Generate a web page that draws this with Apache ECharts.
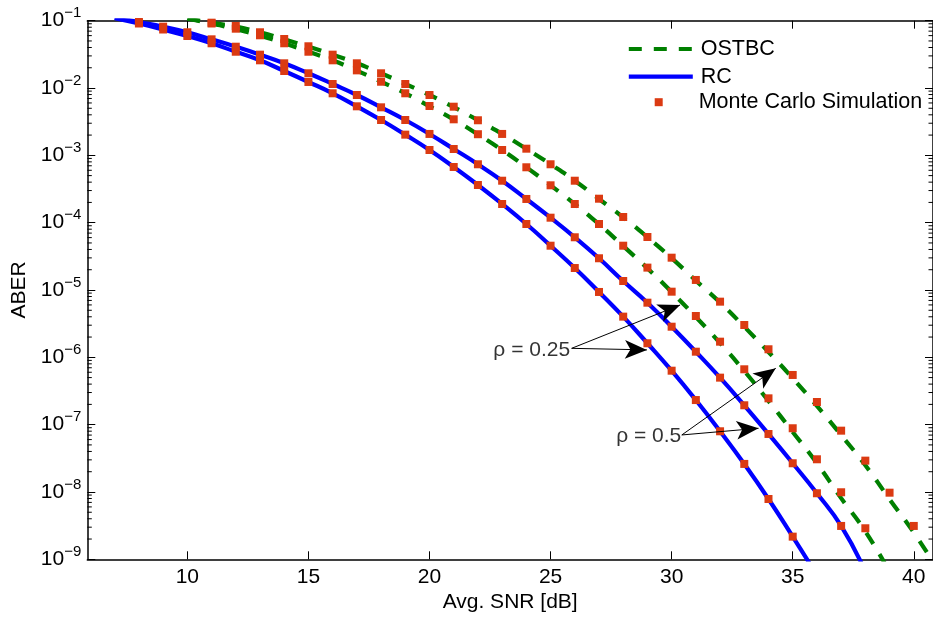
<!DOCTYPE html>
<html><head><meta charset="utf-8">
<script src="https://cdn.jsdelivr.net/npm/echarts@6/dist/echarts.min.js"></script>
<style>html,body{margin:0;padding:0;background:#fff}#c{width:933px;height:623px}</style>
</head><body><div id="c"></div>
<script>
const FONT = "'Liberation Sans', Arial, Helvetica, sans-serif";

// ---- axis ranges / ticks ----
const xMin = 5.868, xMax = 40.794;
const yMin = 1e-9, yMax = 1e-1;
const xTickValues = [10, 15, 20, 25, 30, 35, 40];

// ---- theory curves (lines) ----
const snrRC025 = [7,8,9,10,11,12,13,14,15,16,17,18,19,20,21,22,23,24,25,26,27,28,29,30,31,32,33,34,35,36];
const aberRC025 = [0.109,0.0909,0.074,0.0593,0.0462,0.0346,0.0258,0.0179,0.0123,8.35e-3,5.35e-3,3.35e-3,2.03e-3,1.2e-3,6.72e-4,3.63e-4,1.895e-4,9.56e-5,4.55e-5,2.12e-5,9.35e-6,4.02e-6,1.617e-6,6.33e-7,2.32e-7,7.97e-8,2.61e-8,7.87e-9,2.17e-9,5.8e-10];

const snrRC05 = [7,8,9,10,11,12,13,14,15,16,17,18,19,20,21,22,23,24,25,26,27,28,29,30,31,32,33,34,35,36,37,38];
const aberRC05 = [0.112,0.0956,0.0815,0.0673,0.0529,0.0411,0.0313,0.0233,0.01655,0.01148,7.88e-3,5.17e-3,3.35e-3,2.08e-3,1.243e-3,7.37e-4,4.2e-4,2.25e-4,1.186e-4,6.07e-5,2.96e-5,1.36e-5,6.48e-6,2.85e-6,1.213e-6,4.99e-7,1.94e-7,7.27e-8,2.67e-8,9.57e-9,3.13e-9,6.6e-10];

const snrOS025 = [10,11,12,13,14,15,16,17,18,19,20,21,22,23,24,25,26,27,28,29,30,31,32,33,34,35,36,37,38,39];
const aberOS025 = [0.107,0.0909,0.075,0.06,0.0462,0.0346,0.0258,0.0181,0.0124,8.35e-3,5.35e-3,3.4e-3,2.05e-3,1.2e-3,6.65e-4,3.59e-4,1.89e-4,9.5e-5,4.5e-5,2.1e-5,9.33e-6,3.98e-6,1.63e-6,6.27e-7,2.25e-7,7.8e-8,2.67e-8,8.1e-9,2.6e-9,6.5e-10];

const snrOS05 = [10,11,12,13,14,15,16,17,18,19,20,21,22,23,24,25,26,27,28,29,30,31,32,33,34,35,36,37,38,39,40,41];
const aberOS05 = [0.108,0.0934,0.0815,0.0673,0.0529,0.0411,0.0313,0.0233,0.01655,0.01148,7.88e-3,5.2e-3,3.33e-3,2.08e-3,1.25e-3,7.37e-4,4.2e-4,2.25e-4,1.2e-4,6.1e-5,2.98e-5,1.38e-5,6.5e-6,2.85e-6,1.2e-6,4.9e-7,1.9e-7,7.0e-8,2.5e-8,7.8e-9,2.5e-9,7e-10];

// ---- Monte Carlo simulation points ----
const mcSnrRC025 = [8,9,10,11,12,13,14,15,16,17,18,19,20,21,22,23,24,25,26,27,28,29,30,31,32,33,34,35];
const mcRC025 = [0.0909,0.074,0.0593,0.0462,0.0346,0.0258,0.0179,0.0123,8.35e-3,5.35e-3,3.35e-3,2.03e-3,1.201e-3,6.72e-4,3.63e-4,1.895e-4,9.56e-5,4.55e-5,2.12e-5,9.35e-6,4.02e-6,1.617e-6,6.33e-7,2.32e-7,7.97e-8,2.61e-8,7.87e-9,2.17e-9];

const mcSnrRC05 = [8,9,10,11,12,13,14,15,16,17,18,19,20,21,22,23,24,25,26,27,28,29,30,31,32,33,34,35,36,37];
const mcRC05 = [0.0956,0.0815,0.0673,0.0529,0.0411,0.0313,0.0233,0.01655,0.01148,7.88e-3,5.17e-3,3.35e-3,2.08e-3,1.243e-3,7.37e-4,4.2e-4,2.25e-4,1.186e-4,6.07e-5,2.96e-5,1.36e-5,6.48e-6,2.85e-6,1.213e-6,4.99e-7,1.94e-7,7.27e-8,2.67e-8,9.57e-9,3.13e-9];

const mcSnrOS025 = [11,12,13,14,15,16,17,18,19,20,21,22,23,24,25,26,27,28,29,30,31,32,33,34,35,36,37,38];
const mcOS025 = [0.0909,0.0761,0.0607,0.0462,0.0346,0.0258,0.0183,0.0124,8.35e-3,5.41e-3,3.43e-3,2.06e-3,1.201e-3,6.65e-4,3.59e-4,1.895e-4,9.56e-5,4.55e-5,2.15e-5,9.44e-6,4.11e-6,1.708e-6,6.64e-7,2.46e-7,8.84e-8,3.06e-8,9.9e-9,2.89e-9];

const mcSnrOS05 = [11,12,13,14,15,16,17,18,19,20,21,22,23,24,25,26,27,28,29,30,31,32,33,34,35,36,37,38,39,40];
const mcOS05 = [0.0934,0.0834,0.0673,0.0535,0.0417,0.0313,0.0233,0.01655,0.01148,7.88e-3,5.28e-3,3.32e-3,2.08e-3,1.256e-3,7.37e-4,4.2e-4,2.27e-4,1.215e-4,6.13e-5,3.02e-5,1.41e-5,6.71e-6,3.02e-6,1.317e-6,5.47e-7,2.17e-7,8.14e-8,2.92e-8,9.76e-9,3.13e-9];

// ---- annotations (data coordinates) ----
const annotText = ['\u03C1 = 0.25', '\u03C1 = 0.5'];
const annotAnchor = [[25.89, 1.26e-6], [30.48, 6.64e-8]];
const arrowFrom = [[25.87, 1.36e-6], [25.87, 1.36e-6], [30.42, 7.03e-8], [30.42, 7.03e-8]];
const arrowTo = [[30.35, 5.99e-6], [28.98, 1.29e-6], [34.30, 6.87e-7], [33.59, 8.83e-8]];

// minor tick multipliers for log axis
const minorMult = [2,3,4,5,6,7,8,9];
const decades = [-9,-8,-7,-6,-5,-4,-3,-2];

const BLUE = '#0000ff', GREEN = '#008000', RED = '#db3a12';

function pairs(xs, ys) { return xs.map((x, i) => [x, ys[i]]); }

function lineSeries(name, xs, ys, color, dashed) {
  return {
    name, type: 'line', data: pairs(xs, ys), smooth: true, showSymbol: false, symbol: 'none',
    clip: true, silent: true, z: 2,
    itemStyle: { color },
    lineStyle: { color, width: 4.2, type: dashed ? [13, 12] : 'solid' },
    emphasis: { disabled: true }
  };
}
function mcSeries(xs, ys) {
  return {
    name: 'Monte Carlo Simulation', type: 'scatter', data: pairs(xs, ys),
    symbol: 'rect', symbolSize: 8, clip: true, silent: true, z: 3,
    itemStyle: { color: RED, opacity: 1 },
    emphasis: { disabled: true }
  };
}

const supFmt = v => {
  const e = Math.round(Math.log10(v));
  return '{b|10}{s|' + (e < 0 ? '\u2212' + (-e) : e) + '}';
};

const chart = echarts.init(document.getElementById('c'), null, { renderer: 'canvas' });
const option = {
  animation: false,
  backgroundColor: '#fff',
  textStyle: { fontFamily: FONT, color: '#000' },
  grid: { left: 87.3, top: 20.7, right: -3, bottom: 63.7, containLabel: false },
  legend: [
    {
      data: ['OSTBC', 'RC'], orient: 'vertical', left: 626.7, top: 38, padding: 0,
      itemWidth: 64, itemHeight: 14, itemGap: 5.7, selectedMode: false,
      itemStyle: { opacity: 0, color: 'rgba(0,0,0,0)', borderWidth: 0 },
      lineStyle: { width: 4.2 },
      textStyle: { fontSize: 21.5, fontFamily: FONT, color: '#000', lineHeight: 21, padding: [0, 0, 0, 3] }
    },
    {
      data: ['Monte Carlo Simulation'], orient: 'vertical', left: 654.7, top: 91.2, padding: 0,
      itemWidth: 8, itemHeight: 8, selectedMode: false,
      textStyle: { fontSize: 21.5, fontFamily: FONT, color: '#000', lineHeight: 21, padding: [0, 0, 0, 31] }
    }
  ],
  xAxis: [
    {
      type: 'value', position: 'bottom', min: xMin, max: xMax, splitNumber: 7,
      name: 'Avg. SNR [dB]', nameLocation: 'middle', nameGap: 29,
      nameTextStyle: { fontSize: 21, fontFamily: FONT, color: '#000' },
      axisLine: { show: true, onZero: false, lineStyle: { color: '#000', width: 1.5 } },
      axisTick: { show: true, inside: true, length: 8, lineStyle: { color: '#000', width: 1 }, customValues: xTickValues },
      axisLabel: { show: true, fontSize: 21, fontFamily: FONT, color: '#000', margin: 7, customValues: xTickValues },
      splitLine: { show: false }
    },
    {
      type: 'value', position: 'top', min: xMin, max: xMax, splitNumber: 7,
      axisLine: { show: true, onZero: false, lineStyle: { color: '#000', width: 1.5 } },
      axisTick: { show: true, inside: true, length: 8, lineStyle: { color: '#000', width: 1 }, customValues: xTickValues },
      axisLabel: { show: false },
      splitLine: { show: false }
    }
  ],
  yAxis: [
    {
      type: 'log', logBase: 10, position: 'left', min: yMin, max: yMax,
      name: 'ABER', nameLocation: 'middle', nameGap: 57, nameRotate: 90,
      nameTextStyle: { fontSize: 21, fontFamily: FONT, color: '#000' },
      axisLine: { show: true, onZero: false, lineStyle: { color: '#000', width: 1.5 } },
      axisTick: { show: true, inside: true, length: 8, lineStyle: { color: '#000', width: 1 } },
      axisLabel: {
        show: true, margin: 6, formatter: supFmt,
        rich: {
          b: { fontSize: 21, fontFamily: FONT, color: '#000', lineHeight: 30 },
          s: { fontSize: 15, fontFamily: FONT, color: '#000', verticalAlign: 'top' }
        }
      },
      splitLine: { show: false }, minorTick: { show: false }
    },
    {
      type: 'log', logBase: 10, position: 'right', min: yMin, max: yMax,
      axisLine: { show: true, onZero: false, lineStyle: { color: '#000', width: 1.5 } },
      axisTick: { show: true, inside: true, length: 8, lineStyle: { color: '#000', width: 1 } },
      axisLabel: { show: false },
      splitLine: { show: false }
    }
  ],
  series: [
    lineSeries('OSTBC', snrOS025, aberOS025, GREEN, true),
    lineSeries('OSTBC', snrOS05, aberOS05, GREEN, true),
    lineSeries('RC', snrRC025, aberRC025, BLUE, false),
    lineSeries('RC', snrRC05, aberRC05, BLUE, false),
    mcSeries(mcSnrOS025, mcOS025),
    mcSeries(mcSnrOS05, mcOS05),
    mcSeries(mcSnrRC025, mcRC025),
    mcSeries(mcSnrRC05, mcRC05),
    {
      name: 'annot', type: 'scatter', symbolSize: 0, silent: true, z: 5, clip: false,
      data: annotAnchor.map((p, i) => ({ value: [p[0], p[1]], name: annotText[i] })),
      label: { show: true, position: 'left', distance: 2, formatter: p => p.name,
        fontSize: 21, fontFamily: FONT, color: '#000' },
      markLine: {
        silent: true, animation: false,
        symbol: ['none', 'arrow'], symbolSize: [14, 22],
        lineStyle: { color: '#000', width: 1, type: 'solid' },
        itemStyle: { color: '#000' },
        label: { show: false },
        emphasis: { disabled: true },
        data: arrowFrom.map((f, i) => [{ coord: f }, { coord: arrowTo[i] }])
      }
    },
    {
      name: 'minorTicks', type: 'custom', silent: true, z: 6, clip: false,
      data: [[xMin, 1e-5]],
      renderItem: function (params, api) {
        const children = [];
        decades.forEach(k => {
          minorMult.forEach(m => {
            const v = m * Math.pow(10, k);
            const pl = api.coord([xMin, v]);
            const pr = api.coord([xMax, v]);
            children.push({ type: 'line', shape: { x1: pl[0], y1: pl[1], x2: pl[0] + 4.5, y2: pl[1] },
              style: { stroke: '#000', lineWidth: 1 } });
            children.push({ type: 'line', shape: { x1: pr[0] - 4.5, y1: pr[1], x2: pr[0], y2: pr[1] },
              style: { stroke: '#000', lineWidth: 1 } });
          });
        });
        return { type: 'group', children };
      }
    }
  ]
};
chart.setOption(option);
</script>
</body></html>
